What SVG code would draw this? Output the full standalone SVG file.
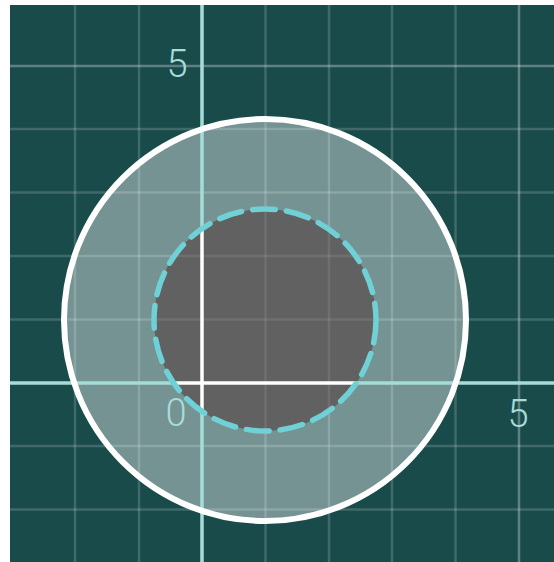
<svg xmlns="http://www.w3.org/2000/svg" width="554" height="562" viewBox="0 0 554 562">
  <style>
    .grid { stroke: #ffffff; stroke-opacity: 0.17; stroke-width: 2.5; }
    .grid5 { stroke: #ffffff; stroke-opacity: 0.3; stroke-width: 2.5; }
    .gridi { stroke: #ffffff; stroke-opacity: 0.09; stroke-width: 2.5; }
    .axis { stroke: #a6dcd8; stroke-width: 3.5; }
    .axisw { stroke: #ffffff; stroke-width: 3.5; }
    .lbl { font-family: Roboto, "Liberation Sans", sans-serif; font-weight: 300; font-size: 38px; fill: #a8dcd8; text-anchor: middle; }
  </style>
  <defs>
    <clipPath id="innerClip"><circle cx="265" cy="320" r="111"/></clipPath>
  </defs>
  <rect x="0" y="0" width="554" height="562" fill="#ffffff"/>
  <rect x="10" y="5" width="544" height="557" fill="#1a4b4b"/>
  <g id="grid">
    <line class="grid" x1="75" y1="5" x2="75" y2="562"/>
    <line class="grid" x1="139" y1="5" x2="139" y2="562"/>
    <line class="grid" x1="265.5" y1="5" x2="265.5" y2="562"/>
    <line class="grid" x1="329" y1="5" x2="329" y2="562"/>
    <line class="grid" x1="392" y1="5" x2="392" y2="562"/>
    <line class="grid" x1="455.5" y1="5" x2="455.5" y2="562"/>
    <line class="grid5" x1="519" y1="5" x2="519" y2="562"/>
    <line class="grid5" x1="10" y1="66" x2="554" y2="66"/>
    <line class="grid" x1="10" y1="129" x2="554" y2="129"/>
    <line class="grid" x1="10" y1="192.5" x2="554" y2="192.5"/>
    <line class="grid" x1="10" y1="256" x2="554" y2="256"/>
    <line class="grid" x1="10" y1="319.5" x2="554" y2="319.5"/>
    <line class="grid" x1="10" y1="446" x2="554" y2="446"/>
    <line class="grid" x1="10" y1="509.5" x2="554" y2="509.5"/>
  </g>
  <g id="outer-circle">
    <circle cx="265" cy="320" r="201" fill="#ffffff" fill-opacity="0.4"/>
  </g>
  <g id="axes">
    <line class="axis" x1="202" y1="5" x2="202" y2="562"/>
    <line class="axis" x1="10" y1="383" x2="554" y2="383"/>
  </g>
  <g id="outer-stroke">
    <circle cx="265" cy="320" r="201" fill="none" stroke="#ffffff" stroke-width="6"/>
  </g>
  <g id="inner-circle">
    <circle cx="265" cy="320" r="111" fill="#616161"/>
    <g clip-path="url(#innerClip)">
      <line class="gridi" x1="265.5" y1="200" x2="265.5" y2="440"/>
      <line class="gridi" x1="329" y1="200" x2="329" y2="440"/>
      <line class="gridi" x1="150" y1="256" x2="380" y2="256"/>
      <line class="gridi" x1="150" y1="319.5" x2="380" y2="319.5"/>
      <line class="axisw" x1="202" y1="5" x2="202" y2="562"/>
      <line class="axisw" x1="10" y1="383" x2="554" y2="383"/>
    </g>
    <circle cx="265" cy="320" r="111" fill="none" stroke="#6fd0d5" stroke-width="5.5" stroke-dasharray="23 11" stroke-linecap="round"/>
  </g>
  <g id="labels">
    <text class="lbl" x="177" y="77">5</text>
    <text class="lbl" x="176" y="426">0</text>
    <text class="lbl" x="518" y="427">5</text>
  </g>
</svg>
